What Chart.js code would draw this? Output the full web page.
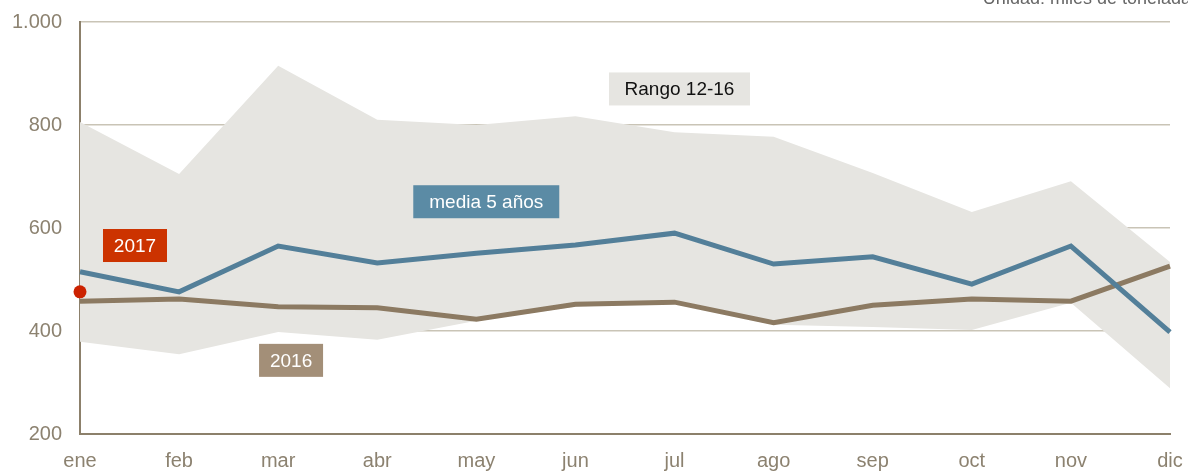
<!DOCTYPE html>
<html>
<head>
<meta charset="utf-8">
<script src="https://cdn.jsdelivr.net/npm/chart.js@4.4.0/dist/chart.umd.min.js"></script>
<style>
  html, body { margin: 0; padding: 0; background: #ffffff; }
  #wrap { width: 1188px; height: 472px; position: relative; }
</style>
</head>
<body>
<div id="wrap"><canvas id="chart"></canvas></div>
<script>
// data (miles de toneladas)
const months = ['ene', 'feb', 'mar', 'abr', 'may', 'jun', 'jul', 'ago', 'sep', 'oct', 'nov', 'dic'];
const rangeMax = [806, 705, 915, 810, 800, 817, 786, 777, 707, 631, 691, 534];
const rangeMin = [379, 355, 398, 383, 420, 447, 455, 412, 408, 402, 455, 289];
const media5 = [515, 476, 565, 532, 551, 567, 590, 530, 544, 491, 565, 398];
const y2016 = [458, 462, 447, 445, 423, 452, 456, 416, 450, 462, 458, 526];
const y2017 = [476];

// labels anchored in data coordinates (month index, value)
const tags = [
  { text: 'Rango 12-16', x: 6.05, y: 870, bg: '#e6e5e1', color: '#111111', w: 141 },
  { text: 'media 5 años', x: 4.1, y: 651, bg: '#5b8ba5', color: '#ffffff', w: 146 },
  { text: '2017', x: 0.555, y: 566, bg: '#cc3300', color: '#ffffff', w: 64 },
  { text: '2016', x: 2.13, y: 343, bg: '#a38f78', color: '#ffffff', w: 64 },
];

const FONT = "'Liberation Sans', Arial, sans-serif";

const tagPlugin = {
  id: 'tags',
  afterDatasetsDraw(chart) {
    const ctx = chart.ctx;
    const xs = chart.scales.x, ys = chart.scales.y;
    ctx.save();
    ctx.font = '19px ' + FONT;
    ctx.textAlign = 'center';
    ctx.textBaseline = 'middle';
    tags.forEach(t => {
      const cx = xs.getPixelForValue(t.x);
      const cy = ys.getPixelForValue(t.y);
      ctx.fillStyle = t.bg;
      ctx.fillRect(cx - t.w / 2, cy - 16.5, t.w, 33);
      ctx.fillStyle = t.color;
      ctx.fillText(t.text, cx, cy + 1);
    });
    // unit note, clipped at the top edge as in the reference
    ctx.font = '18px ' + FONT;
    ctx.fillStyle = '#666666';
    ctx.textAlign = 'right';
    ctx.textBaseline = 'alphabetic';
    ctx.fillText('Unidad: miles de toneladas', 1200, 4);
    ctx.restore();
  }
};

Chart.defaults.font.family = FONT;

new Chart(document.getElementById('chart'), {
  type: 'line',
  data: {
    labels: months,
    datasets: [
      {
        label: 'max',
        data: rangeMax,
        borderWidth: 0,
        pointRadius: 0,
        backgroundColor: '#e6e5e1',
        fill: '+1',
        order: 3,
      },
      {
        label: 'min',
        data: rangeMin,
        borderWidth: 0,
        pointRadius: 0,
        fill: false,
        order: 3,
      },
      {
        label: '2016',
        data: y2016,
        borderColor: '#8c7a62',
        borderWidth: 5,
        pointRadius: 0,
        fill: false,
        order: 2,
      },
      {
        label: 'media 5 años',
        data: media5,
        borderColor: '#537f99',
        borderWidth: 5,
        pointRadius: 0,
        fill: false,
        order: 1,
      },
      {
        label: '2017',
        data: y2017,
        borderColor: '#cc2200',
        backgroundColor: '#cc2200',
        pointRadius: 6.5,
        pointBorderWidth: 0,
        showLine: false,
        fill: false,
        clip: false,
        order: 0,
      },
    ],
  },
  options: {
    responsive: true,
    maintainAspectRatio: false,
    animation: false,
    layout: { padding: { top: 22, right: 18, left: 0, bottom: 0 } },
    plugins: {
      legend: { display: false },
      tooltip: { enabled: false },
    },
    elements: { line: { tension: 0 } },
    scales: {
      x: {
        offset: false,
        grid: { display: false },
        border: { display: true, color: '#8c806b', width: 2 },
        ticks: {
          color: '#8c8270',
          font: { size: 20 },
          maxRotation: 0,
          autoSkip: false,
          padding: 7,
        },
        afterFit(scale) {
          scale.height = 38;
          scale.paddingLeft = 0;
          scale.paddingRight = 0;
        },
      },
      y: {
        min: 200,
        max: 1000,
        grid: { color: '#c9c4b6', lineWidth: 1.5, drawTicks: false },
        border: { display: true, color: '#8c806b', width: 2 },
        ticks: {
          stepSize: 200,
          color: '#8c8270',
          font: { size: 20 },
          padding: 18,
          callback: v => v >= 1000 ? '1.000' : String(v),
        },
        afterFit(scale) {
          scale.width = 80;
          scale.paddingTop = 0;
          scale.paddingBottom = 0;
        },
      },
    },
  },
  plugins: [tagPlugin],
});
</script>
</body>
</html>
